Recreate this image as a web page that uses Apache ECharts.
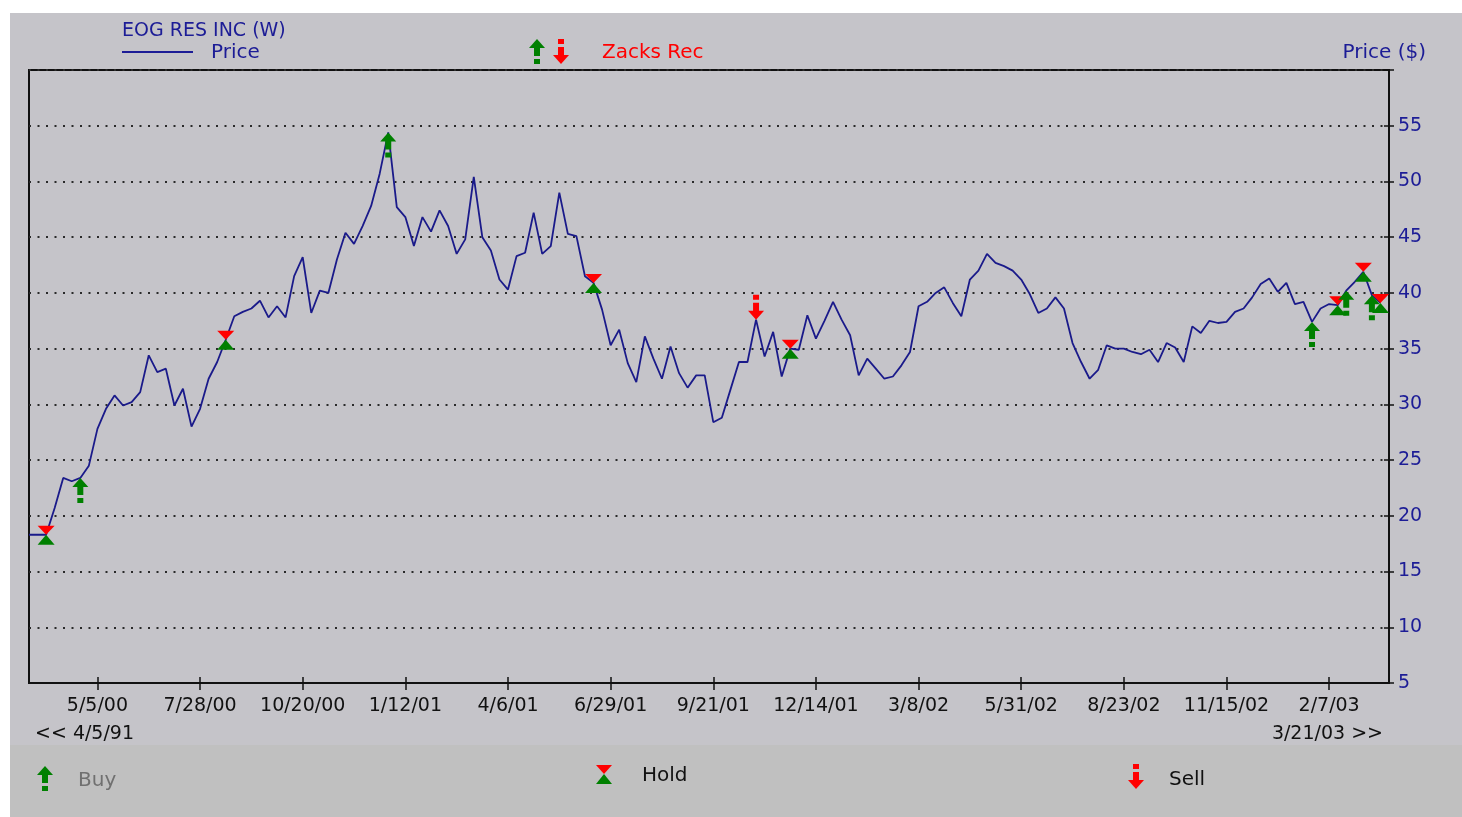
<!DOCTYPE html>
<html>
<head>
<meta charset="utf-8">
<script src="https://cdn.jsdelivr.net/npm/echarts@6/dist/echarts.min.js"></script>
<style>
  html, body { margin: 0; padding: 0; background: #fff; }
  #chart { width: 1462px; height: 817px; }
</style>
</head>
<body>
<div id="chart"></div>
<script>
// weekly closes, EOG RES INC, 3/10/00 .. 3/21/03
var price = [
  18.3, 18.3, 18.3, 20.7, 23.4, 23.1, 23.4, 24.5, 27.8, 29.6,
  30.8, 29.9, 30.2, 31.1, 34.4, 32.9, 33.2, 29.9, 31.4, 28.0,
  29.6, 32.3, 33.8, 35.8, 37.9, 38.3, 38.6, 39.3, 37.8, 38.8,
  37.8, 41.5, 43.2, 38.2, 40.2, 40.0, 43.0, 45.4, 44.4, 46.0,
  47.8, 50.7, 54.4, 47.7, 46.8, 44.2, 46.8, 45.5, 47.4, 46.0,
  43.5, 44.8, 50.4, 45.0, 43.8, 41.2, 40.3, 43.3, 43.6, 47.2,
  43.5, 44.2, 49.0, 45.3, 45.1, 41.5, 40.9, 38.5, 35.3, 36.7,
  33.7, 32.0, 36.1, 34.1, 32.3, 35.2, 32.8, 31.5, 32.6, 32.6,
  28.4, 28.8, 31.3, 33.8, 33.8, 37.6, 34.3, 36.5, 32.5, 35.0,
  34.9, 38.0, 35.9, 37.5, 39.2, 37.6, 36.2, 32.6, 34.1, 33.2,
  32.3, 32.5, 33.5, 34.7, 38.8, 39.2, 40.0, 40.5, 39.1, 37.9,
  41.2, 42.0, 43.5, 42.7, 42.4, 42.0, 41.2, 39.9, 38.2, 38.6,
  39.6, 38.6, 35.5, 33.8, 32.3, 33.1, 35.3, 35.0, 35.0, 34.7,
  34.5, 34.9, 33.8, 35.5, 35.1, 33.8, 37.0, 36.4, 37.5, 37.3,
  37.4, 38.3, 38.6, 39.6, 40.8, 41.3, 40.1, 40.9, 39.0, 39.2,
  37.4, 38.6, 39.0, 38.9, 40.2, 41.0, 41.9, 39.8, 39.1
];

// Zacks recommendation weeks (index into price)
var buyWeeks = [6, 42, 150, 154, 157];
var holdWeeks = [2, 23, 66, 89, 153, 156, 158];
var sellWeeks = [85];

var yTicks = [5, 10, 15, 20, 25, 30, 35, 40, 45, 50, 55];

// one category per week, plus one empty week at the right edge
var weeks = [];
for (var i = 0; i < price.length + 1; i++) {
    var d = new Date(2000, 2, 10 + 7 * i);
    var yy = String(d.getFullYear() % 100);
    if (yy.length < 2) yy = '0' + yy;
    weeks.push((d.getMonth() + 1) + '/' + d.getDate() + '/' + yy);
}

function pts(idx) {
    var out = [];
    for (var k = 0; k < idx.length; k++) {
        out.push([idx[k], price[idx[k]]]);
    }
    return out;
}

function showTick(index) {
    return index % 12 === 8;
}

var FONT = 'DejaVu Sans';
var BLUE = '#1c1c96';
var GREEN = '#008000';
var RED = '#ff0000';

var UP_ARROW = 'path://M8,0L16,9L11,9L11,17L5,17L5,9L0,9Z M5,20L11,20L11,25L5,25Z';
var DOWN_ARROW = 'path://M5,0L11,0L11,5L5,5Z M5,8L11,8L11,16L16,16L8,25L0,16L5,16Z';
var TRI_DOWN = 'path://M0,0L16,0L8,9Z';
var TRI_UP = 'path://M8,0L16,9L0,9Z';

// small icons for the legends
function upIcon(cx, ty) {
    return [
        {type: 'polygon', shape: {points: [[cx, ty], [cx + 8, ty + 9], [cx - 8, ty + 9]]}, style: {fill: GREEN}},
        {type: 'rect', shape: {x: cx - 3, y: ty + 9, width: 6, height: 8}, style: {fill: GREEN}},
        {type: 'rect', shape: {x: cx - 3, y: ty + 20, width: 6, height: 5}, style: {fill: GREEN}}
    ];
}
function downIcon(cx, ty) {
    return [
        {type: 'rect', shape: {x: cx - 3, y: ty, width: 6, height: 5}, style: {fill: RED}},
        {type: 'rect', shape: {x: cx - 3, y: ty + 8, width: 6, height: 8}, style: {fill: RED}},
        {type: 'polygon', shape: {points: [[cx - 8, ty + 16], [cx + 8, ty + 16], [cx, ty + 25]]}, style: {fill: RED}}
    ];
}
function holdIcon(cx, cy) {
    return [
        {type: 'polygon', shape: {points: [[cx - 8, cy - 9], [cx + 8, cy - 9], [cx, cy]]}, style: {fill: RED}},
        {type: 'polygon', shape: {points: [[cx, cy], [cx + 8, cy + 10], [cx - 8, cy + 10]]}, style: {fill: GREEN}}
    ];
}

function txt(x, y, s, color, size, align) {
    return {
        type: 'text', x: x, y: y,
        style: {text: s, fill: color, font: size + 'px "' + FONT + '"', align: align || 'left', verticalAlign: 'middle'}
    };
}

var graphics = [
    {type: 'rect', shape: {x: 0, y: 0, width: 1462, height: 13}, style: {fill: '#ffffff'}},
    {type: 'rect', shape: {x: 0, y: 0, width: 10, height: 817}, style: {fill: '#ffffff'}},
    {type: 'rect', shape: {x: 10, y: 745, width: 1452, height: 72}, style: {fill: '#c0c0c0'}},
    txt(122, 31, 'EOG RES INC (W)', BLUE, 19),
    {type: 'line', shape: {x1: 122, y1: 52, x2: 193, y2: 52}, style: {stroke: BLUE, lineWidth: 2}},
    txt(211, 53, 'Price', BLUE, 20),
    txt(602, 53, 'Zacks Rec', RED, 20),
    txt(1426, 53, 'Price ($)', BLUE, 20, 'right'),
    txt(35, 734, '<< 4/5/91', '#111', 19),
    txt(1383, 734, '3/21/03 >>', '#111', 19, 'right'),
    txt(78, 781, 'Buy', '#707070', 20),
    txt(642, 776, 'Hold', '#111', 20),
    txt(1169, 780, 'Sell', '#111', 20)
].concat(upIcon(537, 39), downIcon(561, 39), upIcon(45, 766), holdIcon(604, 774), downIcon(1136, 764));

var chart = echarts.init(document.getElementById('chart'));
chart.setOption({
    backgroundColor: '#c5c4c9',
    animation: false,
    grid: {
        left: 29, right: 73, top: 70, bottom: 134,
        show: true, borderColor: '#111', borderWidth: 2, backgroundColor: 'transparent'
    },
    xAxis: [{
        type: 'category',
        data: weeks,
        boundaryGap: false,
        axisLine: {show: true, lineStyle: {color: '#111', width: 2}},
        axisTick: {show: true, interval: showTick, length: 7, lineStyle: {color: '#111', width: 1.5}},
        axisLabel: {interval: showTick, margin: 14, color: '#111', fontSize: 19, fontFamily: FONT},
        splitLine: {show: false}
    }, {
        type: 'category',
        data: weeks,
        boundaryGap: false,
        position: 'bottom',
        axisLine: {show: false},
        axisTick: {show: true, inside: true, interval: showTick, length: 6, lineStyle: {color: '#111', width: 1.5}},
        axisLabel: {show: false},
        splitLine: {show: false}
    }],
    yAxis: [{
        type: 'value',
        position: 'right',
        min: 5, max: 60, interval: 5,
        axisLine: {show: true, lineStyle: {color: '#111', width: 2}},
        axisTick: {show: true, length: 5, lineStyle: {color: '#111', width: 1.5}},
        axisLabel: {
            margin: 9, color: BLUE, fontSize: 19, fontFamily: FONT,
            formatter: function (v) { return yTicks.indexOf(v) >= 0 ? String(v) : ''; }
        },
        splitLine: {show: true, lineStyle: {color: '#2a2a2a', width: 2, type: [2, 6.5]}}
    }, {
        type: 'value',
        position: 'right',
        min: 5, max: 60, interval: 5,
        axisLine: {show: false},
        axisTick: {show: true, inside: true, length: 5, lineStyle: {color: '#111', width: 1.5}},
        axisLabel: {show: false},
        splitLine: {show: false}
    }],
    graphic: graphics,
    series: [{
        name: 'Price',
        type: 'line',
        data: price,
        showSymbol: false,
        symbol: 'none',
        lineStyle: {color: '#1a1a8a', width: 1.8},
        z: 2
    }, {
        name: 'Hold top',
        type: 'scatter',
        data: pts(holdWeeks),
        symbol: TRI_DOWN,
        symbolSize: [17, 9],
        symbolOffset: [0, -4.5],
        itemStyle: {color: RED, opacity: 1},
        z: 3
    }, {
        name: 'Hold bottom',
        type: 'scatter',
        data: pts(holdWeeks),
        symbol: TRI_UP,
        symbolSize: [17, 10],
        symbolOffset: [0, 5],
        itemStyle: {color: GREEN, opacity: 1},
        z: 3
    }, {
        name: 'Buy',
        type: 'scatter',
        data: pts(buyWeeks),
        symbol: UP_ARROW,
        symbolSize: [16, 25],
        symbolOffset: [0, 12.5],
        itemStyle: {color: GREEN, opacity: 1},
        z: 4
    }, {
        name: 'Sell',
        type: 'scatter',
        data: pts(sellWeeks),
        symbol: DOWN_ARROW,
        symbolSize: [16, 25],
        symbolOffset: [0, -12.5],
        itemStyle: {color: RED, opacity: 1},
        z: 4
    }]
});
</script>
</body>
</html>
